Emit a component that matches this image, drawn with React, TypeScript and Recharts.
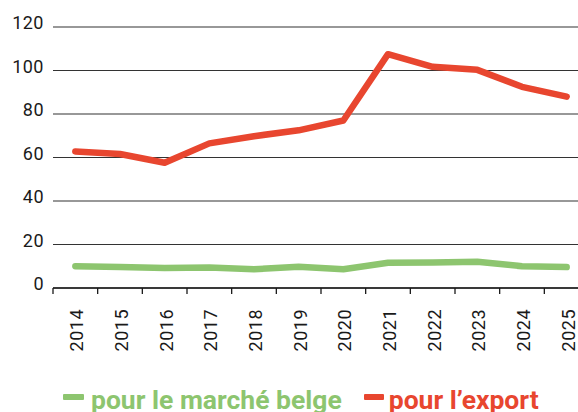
import React from 'react';
import { LineChart, Line, XAxis, YAxis, CartesianGrid, Legend } from 'recharts';

const years = ['2014', '2015', '2016', '2017', '2018', '2019', '2020', '2021', '2022', '2023', '2024', '2025'];
const marcheBelge = [10, 9.6, 9.2, 9.4, 8.6, 9.8, 8.6, 11.6, 11.7, 12.1, 10, 9.6];
const pourExport = [62.8, 61.6, 57.6, 66.5, 69.8, 72.5, 77, 107.5, 101.7, 100.3, 92.5, 88];
const yTicks = [0, 20, 40, 60, 80, 100, 120];

const GREEN = '#8DC56F';
const RED = '#E8462F';
const INK = '#1a1a1a';

const data = years.map((year, i) => ({ year, belge: marcheBelge[i], export: pourExport[i] }));

const XTick = (props: any) => {
  const { x, y, payload } = props;
  const off = payload && typeof payload.offset === 'number' ? payload.offset : 22.3;
  return (
    <g>
      <line x1={x - off} x2={x - off} y1={y} y2={y + 6} stroke={INK} strokeWidth={1.3} />
      <text
        transform={`translate(${x + 1.5},${y + 21}) rotate(-90)`}
        textAnchor="end"
        dy="0.36em"
        fill={INK}
        fontFamily="Roboto"
        fontSize={18}
        letterSpacing={0.5}
      >
        {payload.value}
      </text>
    </g>
  );
};

const YTick = (props: any) => {
  const { x, y, payload } = props;
  return (
    <text x={x} y={y - 4} dy="0.36em" textAnchor="end" fill={INK} fontFamily="Roboto" fontSize={18} letterSpacing={0.5}>
      {payload.value}
    </text>
  );
};

const LegendContent = () => (
  <div
    style={{
      display: 'flex',
      alignItems: 'center',
      fontFamily: 'Roboto',
      fontWeight: 700,
      fontSize: 26.5,
      lineHeight: '30px',
      whiteSpace: 'nowrap',
    }}
  >
    <span style={{ display: 'inline-block', width: 21, height: 6, background: GREEN, borderRadius: 1, marginRight: 7, position: 'relative', top: -3 }} />
    <span style={{ color: GREEN }}>pour le marché belge</span>
    <span style={{ display: 'inline-block', width: 20, height: 6, background: RED, borderRadius: 1, marginLeft: 22, marginRight: 5, position: 'relative', top: -3 }} />
    <span style={{ color: RED }}>pour l’export</span>
  </div>
);

export default function App() {
  return (
    <div style={{ position: 'fixed', top: 8, left: 8, width: 570, height: 404, overflow: 'hidden', background: '#fff' }}>
      <LineChart width={600} height={420} data={data} margin={{ top: 19, right: 19, left: 0, bottom: 70 }}>
        <CartesianGrid horizontal vertical={false} stroke="#333" strokeWidth={1.2} />
        <XAxis
          dataKey="year"
          type="category"
          scale="band"
          interval={0}
          height={70}
          tickSize={0}
          tickMargin={0}
          tickLine={false}
          axisLine={{ stroke: INK, strokeWidth: 1.5 }}
          tick={<XTick />}
        />
        <YAxis
          domain={[0, 120]}
          ticks={yTicks}
          width={45}
          tickSize={0}
          tickMargin={9}
          tickLine={false}
          axisLine={false}
          tick={<YTick />}
          interval={0}
        />
        <Legend
          layout="horizontal"
          verticalAlign="middle"
          align="center"
          content={<LegendContent />}
          wrapperStyle={{ top: 377, left: 55, width: 'auto', height: 'auto' }}
        />
        <Line type="linear" dataKey="belge" stroke={GREEN} strokeWidth={6.5} dot={false} activeDot={false} strokeLinecap="round" strokeLinejoin="round" isAnimationActive={false} />
        <Line type="linear" dataKey="export" stroke={RED} strokeWidth={6.5} dot={false} activeDot={false} strokeLinecap="round" strokeLinejoin="round" isAnimationActive={false} />
      </LineChart>
    </div>
  );
}
